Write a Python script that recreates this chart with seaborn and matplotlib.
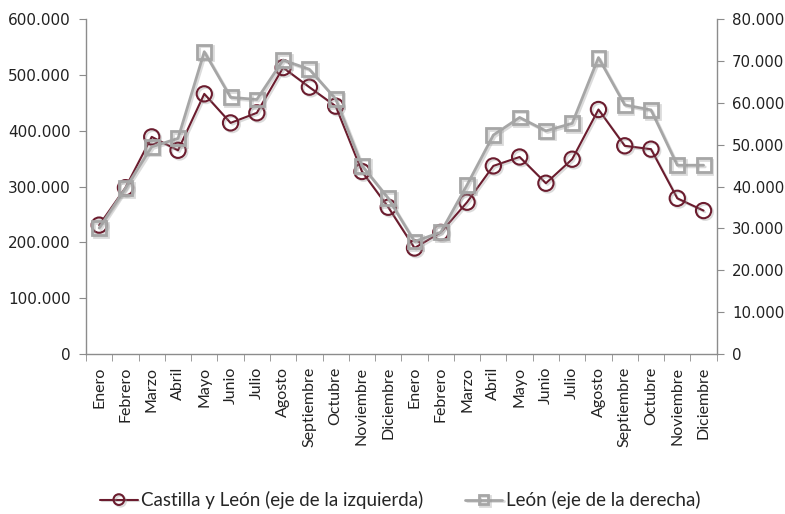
import matplotlib
matplotlib.use("Agg")
import matplotlib.pyplot as plt
import matplotlib.patheffects as pe
from matplotlib.ticker import FuncFormatter, FixedLocator
import seaborn as sns
import pandas as pd
import numpy as np

months = ["Enero", "Febrero", "Marzo", "Abril", "Mayo", "Junio", "Julio",
          "Agosto", "Septiembre", "Octubre", "Noviembre", "Diciembre"]
categories = months + months
castilla = [231000, 298000, 389000, 365000, 466000, 414000, 432000, 513000,
            478000, 444000, 327000, 263000,
            190000, 218000, 272000, 337000, 353000, 306000, 349000, 438000,
            373000, 367000, 279000, 257000]
leon = [30100, 39600, 49500, 51500, 72200, 61300, 60800, 70200, 68000, 60900,
        45000, 37200,
        26900, 29100, 40400, 52300, 56500, 53300, 55100, 70800, 59500, 58300,
        45100, 45100]
left_ticks = [0, 100000, 200000, 300000, 400000, 500000, 600000]
right_ticks = [0, 10000, 20000, 30000, 40000, 50000, 60000, 70000, 80000]

sns.set_style("white")
plt.rcParams["font.family"] = ["DejaVu Sans"]

MAROON = "#6B1C2E"
GRAY = "#A6A6A6"
AXC = "#8C8C8C"

df = pd.DataFrame({"pos": np.arange(len(categories)), "castilla": castilla, "leon": leon})

fig = plt.figure(figsize=(7.85, 5.14), dpi=100)
ax = fig.add_axes([0.1096, 0.311, 0.8034, 0.652])
ax2 = ax.twinx()

shadow = [pe.SimpleLineShadow(offset=(1.2, -1.2), shadow_color="#999999", alpha=0.35), pe.Normal()]

sns.lineplot(data=df, x="pos", y="castilla", ax=ax, color=MAROON, lw=1.5,
             marker="o", markersize=11, markerfacecolor="none",
             markeredgecolor=MAROON, markeredgewidth=1.5,
             label="Castilla y León (eje de la izquierda)", legend=False,
             path_effects=shadow)
sns.lineplot(data=df, x="pos", y="leon", ax=ax2, color=GRAY, lw=2,
             marker="s", markersize=10, markerfacecolor="none",
             markeredgecolor=GRAY, markeredgewidth=2,
             label="León (eje de la derecha)", legend=False,
             path_effects=shadow)

n = len(categories)
for a in (ax, ax2):
    a.set_xlim(-0.5, n - 0.5)
    a.set_xlabel("")
    a.set_ylabel("")
    for s in a.spines.values():
        s.set_visible(False)

ax.set_ylim(0, 600000)
ax2.set_ylim(0, 80000)
ax.set_yticks(left_ticks)
ax2.set_yticks(right_ticks)
fmt = FuncFormatter(lambda v, p: "0" if v == 0 else f"{int(v):,}".replace(",", "."))
ax.yaxis.set_major_formatter(fmt)
ax2.yaxis.set_major_formatter(fmt)

ax.spines["left"].set_visible(True)
ax.spines["bottom"].set_visible(True)
ax2.spines["right"].set_visible(True)
for s in (ax.spines["left"], ax.spines["bottom"], ax2.spines["right"]):
    s.set_color(AXC)
    s.set_linewidth(1.0)

ax.set_xticks(np.arange(n))
ax.set_xticklabels(categories, rotation=90, fontsize=11.5,
                   fontfamily=["Lato", "DejaVu Sans"], color="#222222")
ax.xaxis.set_minor_locator(FixedLocator(np.arange(-0.5, n, 1.0)))
ax.tick_params(axis="x", which="major", length=0, pad=9)
ax.tick_params(axis="x", which="minor", length=5, color=AXC, direction="out", bottom=True)
ax.tick_params(axis="y", length=5, color=AXC, direction="out", labelsize=11,
               labelcolor="#222222", left=True, pad=6)
ax2.tick_params(axis="y", length=5, color=AXC, direction="out", labelsize=10.8,
                labelcolor="#222222", right=True, pad=6)

h1, l1 = ax.get_legend_handles_labels()
h2, l2 = ax2.get_legend_handles_labels()
fig.legend(h1 + h2, l1 + l2, loc="center", bbox_to_anchor=(0.51, 0.027), ncol=2,
           frameon=False, columnspacing=2.2, handlelength=2.0, handletextpad=0.2,
           markerscale=0.7,
           prop={"family": ["Lato", "DejaVu Sans"], "size": 13.5})

fig.savefig("out.png", dpi=100)
